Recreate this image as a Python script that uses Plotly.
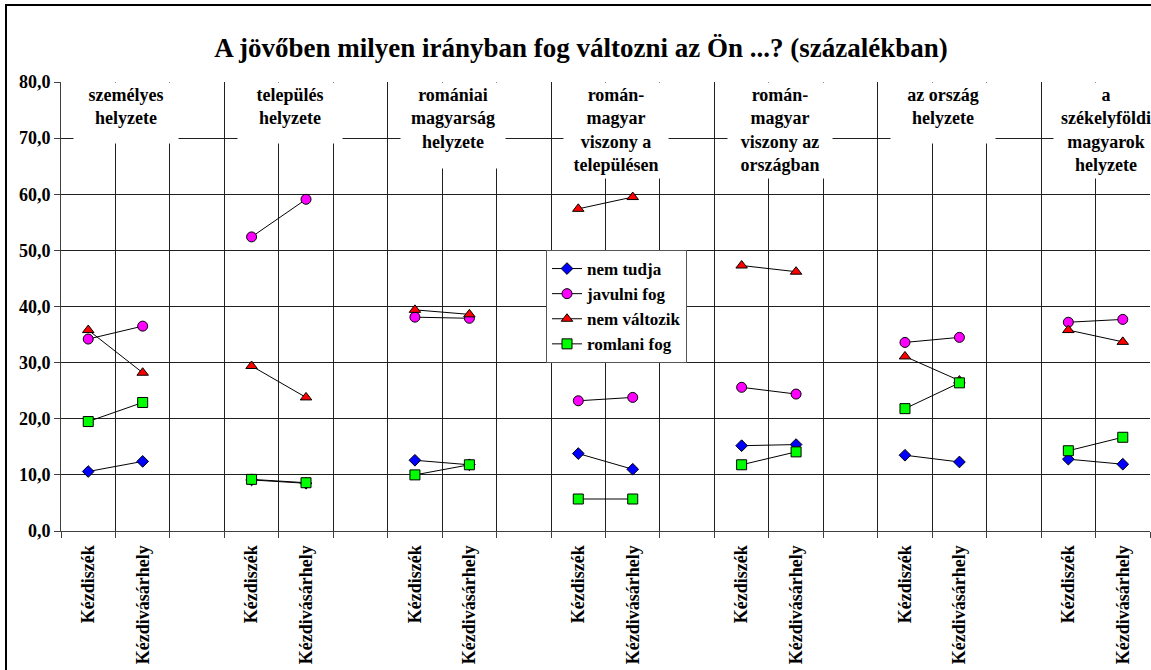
import plotly.graph_objects as go

# ---- data ----
groups = [
    "személyes<br>helyzete",
    "település<br>helyzete",
    "romániai<br>magyarság<br>helyzete",
    "román-<br>magyar<br>viszony a<br>településen",
    "román-<br>magyar<br>viszony az<br>országban",
    "az ország<br>helyzete",
    "a<br>székelyföldi<br>magyarok<br>helyzete",
]
places = ["Kézdiszék", "Kézdivásárhely"]

nem_tudja = [10.6, 12.4, 9.1, 8.5, 12.6, 11.8, 13.8, 11.0, 15.2, 15.4, 13.5, 12.3, 12.8, 11.9]
javulni_fog = [34.2, 36.5, 52.4, 59.1, 38.1, 37.9, 23.2, 23.8, 25.6, 24.4, 33.6, 34.5, 37.2, 37.7]
nem_valtozik = [35.8, 28.2, 29.4, 23.8, 39.4, 38.6, 57.4, 59.5, 47.3, 46.2, 31.1, 26.8, 35.8, 33.7]
romlani_fog = [19.5, 22.9, 9.2, 8.6, 10.0, 11.8, 5.7, 5.7, 11.8, 14.1, 21.8, 26.4, 14.3, 16.7]

series = [
    ("nem tudja", nem_tudja, "diamond", "#0000FF", 9),
    ("javulni fog", javulni_fog, "circle", "#FF00FF", 10),
    ("nem változik", nem_valtozik, "triangle-up", "#FF0000", 10),
    ("romlani fog", romlani_fog, "square", "#00FF00", 10),
]

title = "A jövőben milyen irányban fog változni az Ön ...? (százalékban)"
FONT = "Liberation Serif, Times New Roman, serif"

n_groups = len(groups)
n_cat = 3 * n_groups - 1  # last empty slot is cut off

def build_xy(vals):
    xs, ys = [], []
    for g in range(n_groups):
        for c in range(len(places)):
            xs.append(3 * g + c + 0.5)
            ys.append(vals[2 * g + c])
        xs.append(None)
        ys.append(None)
    return xs, ys

fig = go.Figure()
for name, vals, sym, col, sz in series:
    xs, ys = build_xy(vals)
    fig.add_trace(go.Scatter(
        x=xs, y=ys, name=name, mode="lines+markers",
        line=dict(color="black", width=1),
        marker=dict(symbol=sym, color=col, size=sz, line=dict(color="black", width=1)),
        connectgaps=False,
    ))

tickvals = [3 * g + c + 0.5 for g in range(n_groups) for c in range(len(places))]
ticktext = [places[c] for g in range(n_groups) for c in range(len(places))]

# group header boxes
for g, lab in enumerate(groups):
    nlines = lab.count("<br>") + 1
    h = {2: 56, 3: 81, 4: 91}[nlines]
    fig.add_annotation(
        x=3 * g + 1.2, y=80, xref="x", yref="y",
        xanchor="center", yanchor="top",
        text=lab, showarrow=False, align="center", valign="top",
        width=100, height=h, bgcolor="white", borderpad=2,
        font=dict(family=FONT, size=18, color="black", weight="bold"),
    )

# outer chart frame
fig.add_shape(type="rect", xref="paper", yref="paper",
              x0=-55 / 1089, x1=1.05, y0=-0.5, y1=526 / 449,
              line=dict(color="black", width=2), fillcolor="rgba(0,0,0,0)")

fig.update_layout(
    width=1151, height=670,
    margin=dict(l=61, r=1, t=82, b=139),
    paper_bgcolor="white", plot_bgcolor="white",
    separators=", ",
    title=dict(text=title, x=581 / 1151, xanchor="center", y=1 - 48 / 670, yanchor="middle",
               font=dict(family=FONT, size=27, color="black", weight="bold")),
    legend=dict(x=485 / 1089, y=(531 - 250) / 449, xanchor="left", yanchor="top",
                bgcolor="white", bordercolor="#555555", borderwidth=1,
                font=dict(family=FONT, size=17, color="black", weight="bold"),
                tracegroupgap=0, itemwidth=30),
    showlegend=True,
)

fig.update_xaxes(
    range=[0, n_cat], tickmode="array", tickvals=tickvals, ticktext=ticktext,
    tickangle=-90, ticks="", showgrid=False, zeroline=False,
    showline=True, linecolor="#404040", linewidth=1, ticklabelstandoff=6,
    tickfont=dict(family=FONT, size=18, color="black", weight="bold"),
    minor=dict(tickmode="linear", tick0=0, dtick=1, showgrid=True, gridcolor="#202020",
               gridwidth=1, ticks="outside", ticklen=6, tickcolor="#404040"),
    fixedrange=True,
)
fig.update_yaxes(
    range=[0, 80], dtick=10, tickformat=".1f", showgrid=True, gridcolor="#202020",
    gridwidth=1, zeroline=False, showline=True, linecolor="#404040", linewidth=1,
    ticks="outside", ticklen=6, tickcolor="#404040",
    tickfont=dict(family=FONT, size=18, color="black", weight="bold"),
    fixedrange=True,
)

fig.write_html("out.html", config={"displayModeBar": False},
               post_script="document.body.style.margin='0';")
